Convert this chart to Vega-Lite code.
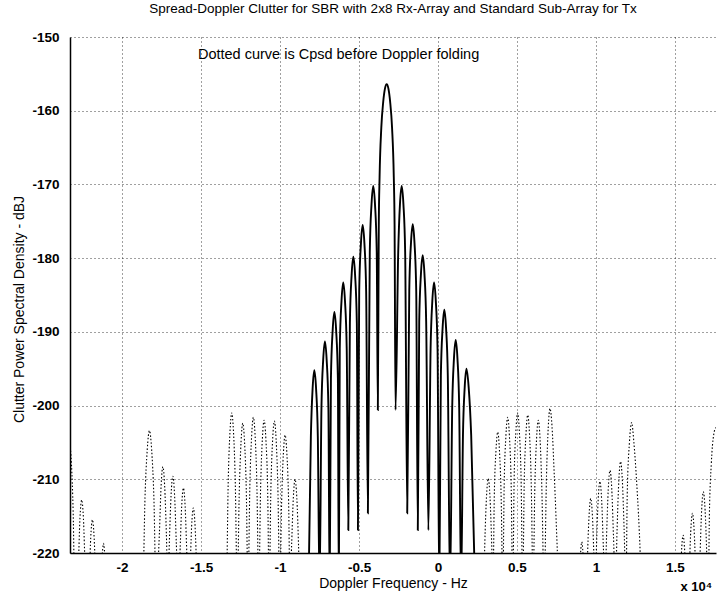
{
  "$schema": "https://vega.github.io/schema/vega-lite/v6.json",
  "width": 646,
  "height": 516,
  "autosize": {"type": "none"},
  "padding": {"left": 70, "top": 37, "right": 1, "bottom": 43},
  "background": "white",
  "title": {"text": "Spread-Doppler Clutter for SBR with 2x8 Rx-Array and Standard Sub-Array for Tx", "font": "Liberation Sans", "fontSize": 13.5, "fontWeight": "normal", "color": "black", "offset": 15, "anchor": "middle"},
  "config": {
    "view": {"stroke": null},
    "axis": {
      "labelFont": "Liberation Sans", "labelFontSize": 13.5, "labelFontWeight": "bold", "labelColor": "black",
      "titleFont": "Liberation Sans", "titleFontSize": 14, "titleFontWeight": "normal", "titleColor": "black",
      "domainColor": "black", "domainWidth": 1.5,
      "gridColor": "black", "gridDash": [1, 3], "gridOpacity": 0.75, "gridWidth": 1,
      "ticks": false, "labelFlush": false
    }
  },
  "datasets": {
    "folded": [
      {"f": -0.82, "p": -225},
      {"f": -0.805, "p": -204.2}, {"f": -0.794, "p": -197.7}, {"f": -0.783, "p": -195.2}, {"f": -0.772, "p": -197.7}, {"f": -0.761, "p": -204.2},
      {"f": -0.75, "p": -225},
      {"f": -0.738, "p": -200.3}, {"f": -0.727, "p": -193.8}, {"f": -0.716, "p": -191.3}, {"f": -0.705, "p": -193.8}, {"f": -0.694, "p": -200.3},
      {"f": -0.686, "p": -225},
      {"f": -0.678, "p": -196.3}, {"f": -0.667, "p": -189.8}, {"f": -0.656, "p": -187.3}, {"f": -0.645, "p": -189.8}, {"f": -0.634, "p": -196.3},
      {"f": -0.628, "p": -225},
      {"f": -0.622, "p": -192.3}, {"f": -0.611, "p": -185.8}, {"f": -0.6, "p": -183.3}, {"f": -0.589, "p": -185.8}, {"f": -0.578, "p": -192.3},
      {"f": -0.568, "p": -216.9},
      {"f": -0.558, "p": -188.8}, {"f": -0.547, "p": -182.3}, {"f": -0.536, "p": -179.8}, {"f": -0.525, "p": -182.3}, {"f": -0.514, "p": -188.8},
      {"f": -0.507, "p": -216.9},
      {"f": -0.499, "p": -184.5}, {"f": -0.488, "p": -178}, {"f": -0.477, "p": -175.5}, {"f": -0.466, "p": -178}, {"f": -0.455, "p": -184.5},
      {"f": -0.444, "p": -214.6},
      {"f": -0.432, "p": -179.2}, {"f": -0.421, "p": -172.7}, {"f": -0.41, "p": -170.2}, {"f": -0.399, "p": -172.7}, {"f": -0.388, "p": -179.2},
      {"f": -0.381, "p": -200.6},
      {"f": -0.375, "p": -175.6}, {"f": -0.37, "p": -169.0}, {"f": -0.359, "p": -162.3}, {"f": -0.347, "p": -158.8}, {"f": -0.336, "p": -157.0},
      {"f": -0.325, "p": -156.4},
      {"f": -0.314, "p": -157.0}, {"f": -0.303, "p": -158.8}, {"f": -0.291, "p": -162.3}, {"f": -0.28, "p": -169.0}, {"f": -0.275, "p": -175.6},
      {"f": -0.269, "p": -200.6},
      {"f": -0.252, "p": -179.2}, {"f": -0.241, "p": -172.7}, {"f": -0.23, "p": -170.2}, {"f": -0.219, "p": -172.7}, {"f": -0.208, "p": -179.2},
      {"f": -0.195, "p": -214.6},
      {"f": -0.182, "p": -184.4}, {"f": -0.171, "p": -177.9}, {"f": -0.16, "p": -175.4}, {"f": -0.149, "p": -177.9}, {"f": -0.138, "p": -184.4},
      {"f": -0.128, "p": -216.9},
      {"f": -0.119, "p": -188.6}, {"f": -0.108, "p": -182.1}, {"f": -0.097, "p": -179.6}, {"f": -0.086, "p": -182.1}, {"f": -0.075, "p": -188.6},
      {"f": -0.061, "p": -216.9},
      {"f": -0.047, "p": -192.3}, {"f": -0.036, "p": -185.8}, {"f": -0.025, "p": -183.3}, {"f": -0.014, "p": -185.8}, {"f": -0.003, "p": -192.3},
      {"f": 0.008, "p": -225},
      {"f": 0.018, "p": -196}, {"f": 0.029, "p": -189.5}, {"f": 0.04, "p": -187}, {"f": 0.051, "p": -189.5}, {"f": 0.062, "p": -196},
      {"f": 0.076, "p": -225},
      {"f": 0.09, "p": -200.1}, {"f": 0.101, "p": -193.6}, {"f": 0.112, "p": -191.1}, {"f": 0.123, "p": -193.6}, {"f": 0.134, "p": -200.1},
      {"f": 0.146, "p": -225},
      {"f": 0.158, "p": -204}, {"f": 0.169, "p": -197.5}, {"f": 0.18, "p": -195}, {"f": 0.194, "p": -197.5}, {"f": 0.21, "p": -204},
      {"f": 0.235, "p": -225}
    ],
    "unfolded": [
      {"f": -2.345, "p": -206.5}, {"f": -2.332, "p": -205.4}, {"f": -2.321, "p": -207.9}, {"f": -2.31, "p": -214.4}, {"f": -2.3, "p": -225},
      {"f": -2.278, "p": -221.8}, {"f": -2.267, "p": -215.3}, {"f": -2.256, "p": -212.8}, {"f": -2.245, "p": -215.3}, {"f": -2.234, "p": -221.8}, {"f": -2.222, "p": -225},
      {"f": -2.21, "p": -224.5}, {"f": -2.199, "p": -218}, {"f": -2.188, "p": -215.5}, {"f": -2.177, "p": -218}, {"f": -2.166, "p": -224.5}, {"f": -2.153, "p": -230},
      {"f": -2.129, "p": -221.2}, {"f": -2.118, "p": -218.7}, {"f": -2.107, "p": -221.2}, {"f": -2.09, "p": -230},
      {"f": -1.98, "p": -235},
      {"f": -1.869, "p": -225}, {"f": -1.855, "p": -212.4}, {"f": -1.841, "p": -206}, {"f": -1.827, "p": -203.4}, {"f": -1.813, "p": -206}, {"f": -1.799, "p": -212.4}, {"f": -1.785, "p": -225},
      {"f": -1.764, "p": -217.3}, {"f": -1.753, "p": -210.8}, {"f": -1.742, "p": -208.3}, {"f": -1.731, "p": -210.8}, {"f": -1.72, "p": -217.3}, {"f": -1.71, "p": -225},
      {"f": -1.701, "p": -218.6}, {"f": -1.69, "p": -212.1}, {"f": -1.679, "p": -209.6}, {"f": -1.668, "p": -212.1}, {"f": -1.657, "p": -218.6}, {"f": -1.646, "p": -225},
      {"f": -1.634, "p": -220.2}, {"f": -1.623, "p": -213.7}, {"f": -1.612, "p": -211.2}, {"f": -1.601, "p": -213.7}, {"f": -1.59, "p": -220.2}, {"f": -1.58, "p": -225},
      {"f": -1.571, "p": -222.9}, {"f": -1.56, "p": -216.4}, {"f": -1.549, "p": -213.9}, {"f": -1.538, "p": -216.4}, {"f": -1.527, "p": -222.9}, {"f": -1.515, "p": -230},
      {"f": -1.42, "p": -235},
      {"f": -1.34, "p": -225}, {"f": -1.328, "p": -210}, {"f": -1.317, "p": -203.5}, {"f": -1.306, "p": -201}, {"f": -1.295, "p": -203.5}, {"f": -1.284, "p": -210}, {"f": -1.271, "p": -225},
      {"f": -1.258, "p": -211.4}, {"f": -1.247, "p": -204.9}, {"f": -1.236, "p": -202.4}, {"f": -1.225, "p": -204.9}, {"f": -1.214, "p": -211.4}, {"f": -1.203, "p": -225},
      {"f": -1.191, "p": -210.6}, {"f": -1.18, "p": -204.1}, {"f": -1.169, "p": -201.6}, {"f": -1.158, "p": -204.1}, {"f": -1.147, "p": -210.6}, {"f": -1.135, "p": -225},
      {"f": -1.123, "p": -211}, {"f": -1.112, "p": -204.5}, {"f": -1.101, "p": -202}, {"f": -1.09, "p": -204.5}, {"f": -1.079, "p": -211}, {"f": -1.069, "p": -225},
      {"f": -1.058, "p": -211.1}, {"f": -1.047, "p": -204.6}, {"f": -1.036, "p": -202.1}, {"f": -1.025, "p": -204.6}, {"f": -1.014, "p": -211.1}, {"f": -1.002, "p": -225},
      {"f": -0.99, "p": -213}, {"f": -0.979, "p": -206.5}, {"f": -0.968, "p": -204}, {"f": -0.957, "p": -206.5}, {"f": -0.946, "p": -213}, {"f": -0.937, "p": -225},
      {"f": -0.927, "p": -219}, {"f": -0.916, "p": -212.5}, {"f": -0.905, "p": -210}, {"f": -0.894, "p": -212.5}, {"f": -0.883, "p": -219}, {"f": -0.87, "p": -230},
      {"f": -0.3, "p": -240},
      {"f": 0.285, "p": -230}, {"f": 0.296, "p": -218.9}, {"f": 0.307, "p": -212.4}, {"f": 0.318, "p": -209.9}, {"f": 0.329, "p": -212.4}, {"f": 0.34, "p": -218.9}, {"f": 0.348, "p": -225},
      {"f": 0.356, "p": -212.6}, {"f": 0.367, "p": -206.1}, {"f": 0.378, "p": -203.6}, {"f": 0.389, "p": -206.1}, {"f": 0.4, "p": -212.6}, {"f": 0.41, "p": -225},
      {"f": 0.419, "p": -210.6}, {"f": 0.43, "p": -204.1}, {"f": 0.441, "p": -201.6}, {"f": 0.452, "p": -204.1}, {"f": 0.463, "p": -210.6}, {"f": 0.473, "p": -225},
      {"f": 0.482, "p": -210}, {"f": 0.493, "p": -203.5}, {"f": 0.504, "p": -201}, {"f": 0.515, "p": -203.5}, {"f": 0.526, "p": -210}, {"f": 0.536, "p": -225},
      {"f": 0.546, "p": -210.3}, {"f": 0.557, "p": -203.8}, {"f": 0.568, "p": -201.3}, {"f": 0.579, "p": -203.8}, {"f": 0.59, "p": -210.3}, {"f": 0.602, "p": -225},
      {"f": 0.613, "p": -211}, {"f": 0.624, "p": -204.5}, {"f": 0.635, "p": -202}, {"f": 0.646, "p": -204.5}, {"f": 0.657, "p": -211}, {"f": 0.672, "p": -225},
      {"f": 0.687, "p": -209.4}, {"f": 0.698, "p": -202.9}, {"f": 0.709, "p": -200.4}, {"f": 0.722, "p": -202.9}, {"f": 0.736, "p": -209.4}, {"f": 0.775, "p": -228},
      {"f": 0.83, "p": -235},
      {"f": 0.899, "p": -221}, {"f": 0.91, "p": -218.5}, {"f": 0.921, "p": -221}, {"f": 0.938, "p": -228},
      {"f": 0.945, "p": -221.6}, {"f": 0.956, "p": -215.1}, {"f": 0.967, "p": -212.6}, {"f": 0.978, "p": -215.1}, {"f": 0.989, "p": -221.6}, {"f": 0.996, "p": -225},
      {"f": 1.003, "p": -219.3}, {"f": 1.014, "p": -212.8}, {"f": 1.025, "p": -210.3}, {"f": 1.036, "p": -212.8}, {"f": 1.047, "p": -219.3}, {"f": 1.057, "p": -225},
      {"f": 1.067, "p": -217.8}, {"f": 1.078, "p": -211.3}, {"f": 1.089, "p": -208.8}, {"f": 1.1, "p": -211.3}, {"f": 1.111, "p": -217.8}, {"f": 1.123, "p": -225},
      {"f": 1.134, "p": -216.6}, {"f": 1.145, "p": -210.1}, {"f": 1.156, "p": -207.6}, {"f": 1.167, "p": -210.1}, {"f": 1.178, "p": -216.6}, {"f": 1.19, "p": -225},
      {"f": 1.198, "p": -212}, {"f": 1.212, "p": -205}, {"f": 1.226, "p": -202.3}, {"f": 1.24, "p": -205}, {"f": 1.258, "p": -210.5}, {"f": 1.28, "p": -220}, {"f": 1.295, "p": -230},
      {"f": 1.42, "p": -235},
      {"f": 1.53, "p": -228}, {"f": 1.541, "p": -220.1}, {"f": 1.552, "p": -217.6}, {"f": 1.563, "p": -220.1}, {"f": 1.58, "p": -228},
      {"f": 1.589, "p": -223.6}, {"f": 1.6, "p": -217.1}, {"f": 1.611, "p": -214.6}, {"f": 1.622, "p": -217.1}, {"f": 1.633, "p": -223.6}, {"f": 1.64, "p": -228},
      {"f": 1.658, "p": -220.7}, {"f": 1.669, "p": -214.2}, {"f": 1.68, "p": -211.7}, {"f": 1.691, "p": -214.2}, {"f": 1.702, "p": -220.7}, {"f": 1.71, "p": -228},
      {"f": 1.718, "p": -215}, {"f": 1.73, "p": -208}, {"f": 1.745, "p": -204}, {"f": 1.76, "p": -203}, {"f": 1.775, "p": -204}
    ]
  },
  "layer": [
    {
      "data": {"name": "unfolded"},
      "mark": {"type": "line", "interpolate": "monotone", "clip": true, "color": "black", "strokeWidth": 1.1, "strokeDash": [1.5, 2]},
      "encoding": {
        "x": {"field": "f", "type": "quantitative", "scale": {"domain": [-2.33, 1.76], "nice": false, "zero": false},
          "axis": {"values": [-2, -1.5, -1, -0.5, 0, 0.5, 1, 1.5], "labelExpr": "toString(datum.value)", "title": "Doppler Frequency - Hz", "labelPadding": 7, "titlePadding": 3}},
        "y": {"field": "p", "type": "quantitative", "scale": {"domain": [-220, -150], "nice": false, "zero": false},
          "axis": {"values": [-220, -210, -200, -190, -180, -170, -160, -150], "labelExpr": "toString(datum.value)", "title": "Clutter Power Spectral Density - dBJ", "labelPadding": 11, "titleX": -44, "titleY": 272}}
      }
    },
    {
      "data": {"name": "folded"},
      "mark": {"type": "line", "interpolate": "monotone", "clip": true, "color": "black", "strokeWidth": 1.9},
      "encoding": {
        "x": {"field": "f", "type": "quantitative"},
        "y": {"field": "p", "type": "quantitative"}
      }
    },
    {
      "data": {"values": [{}]},
      "mark": {"type": "text", "text": "Dotted curve is Cpsd before Doppler folding", "font": "Liberation Sans", "fontSize": 14.5, "color": "black", "align": "left", "baseline": "middle"},
      "encoding": {
        "x": {"datum": -1.52, "type": "quantitative"},
        "y": {"datum": -152.4, "type": "quantitative"}
      }
    },
    {
      "data": {"values": [{}]},
      "mark": {"type": "text", "text": "x 10⁴", "font": "Liberation Sans", "fontSize": 13, "fontWeight": "bold", "color": "black", "align": "left", "baseline": "alphabetic"},
      "encoding": {
        "x": {"datum": 1.535, "type": "quantitative"},
        "y": {"datum": -225.2, "type": "quantitative"}
      }
    }
  ]
}
